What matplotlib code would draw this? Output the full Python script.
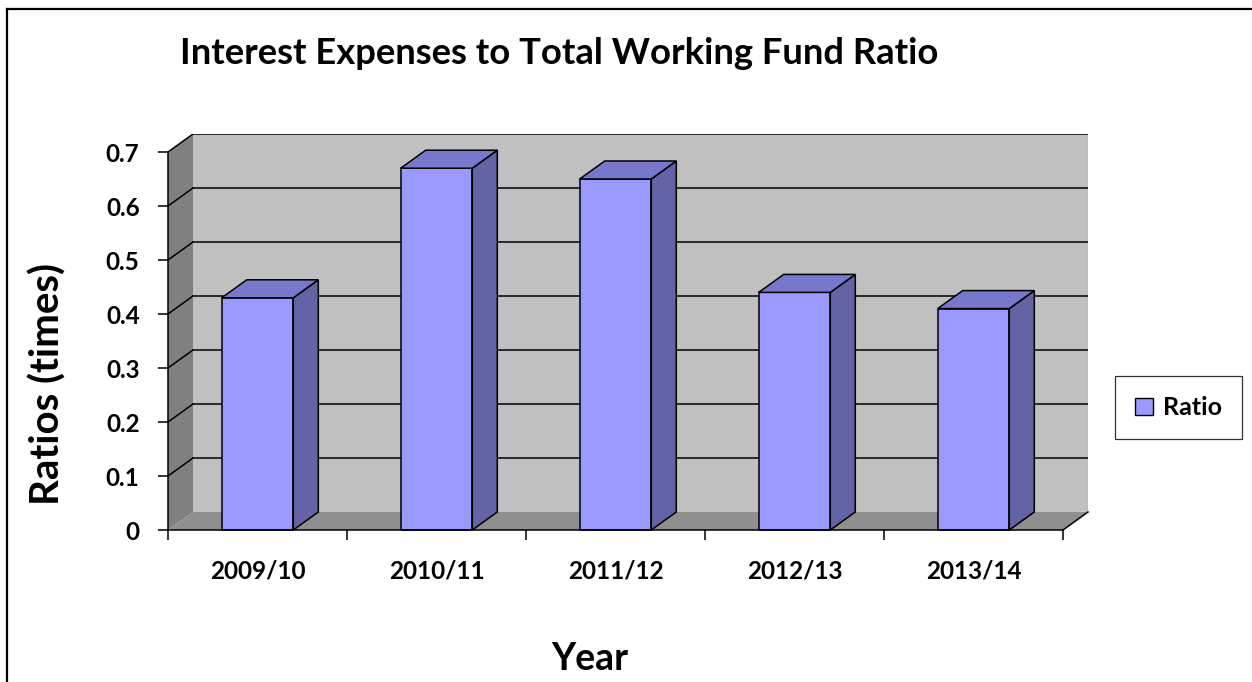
import matplotlib
matplotlib.use("Agg")
import matplotlib.pyplot as plt
from matplotlib.patches import Polygon, Rectangle, Patch
from matplotlib.lines import Line2D

# Data
years = ["2009/10", "2010/11", "2011/12", "2012/13", "2013/14"]
ratios = [0.43, 0.67, 0.65, 0.44, 0.41]
yticks = [0, 0.1, 0.2, 0.3, 0.4, 0.5, 0.6, 0.7]
ymax = 0.7

title = "Interest Expenses to Total Working Fund Ratio"
xlabel = "Year"
ylabel = "Ratios (times)"
series_name = "Ratio"

# Styling
FONT = "Lato"
front_col = "#9999FF"
top_col = "#7777CC"
side_col = "#6363A5"
wall_col = "#C0C0C0"
side_wall_col = "#808080"
floor_col = "#8F8F8F"
edge_lw = 1.1
tick_fs = 17.5

# Depth offset of the pseudo-3D box (x in category units, y in value units)
dx = 25 / 179
dy = 18 / 540
bw = 0.4

W, H = 1252, 682
fig = plt.figure(figsize=(W / 100, H / 100), dpi=100)
fig.patch.set_facecolor("white")

n = len(years)
ax = fig.add_axes([168 / W, (H - 530) / H, (895 + 25) / W, (378 + 18) / H])
ax.set_xlim(0, n + dx)
ax.set_ylim(0, ymax + dy)
ax.set_facecolor("none")

# Walls and floor
back = Polygon([(dx, dy), (n + dx, dy), (n + dx, ymax + dy), (dx, ymax + dy)],
               closed=True, facecolor=wall_col, edgecolor="none", zorder=1)
side = Polygon([(0, 0), (dx, dy), (dx, ymax + dy), (0, ymax)],
               closed=True, facecolor=side_wall_col, edgecolor="none", zorder=1)
floor = Polygon([(0, 0), (n, 0), (n + dx, dy), (dx, dy)],
                closed=True, facecolor=floor_col, edgecolor="none", zorder=1)
for p in (back, side, floor):
    ax.add_patch(p)
ax.plot([n + dx, n + dx], [dy, ymax + dy], color="#7a7a7a", lw=0.8, zorder=1.5)
ax.plot([n, n + dx], [0, dy], color="black", lw=edge_lw, zorder=4, clip_on=False)

# Gridlines on the back wall and side wall
for v in yticks[1:]:
    ax.plot([dx, n + dx], [v + dy, v + dy], color="black", lw=edge_lw, zorder=2)
    ax.plot([0, dx], [v, v + dy], color="black", lw=edge_lw, zorder=2)

# Bars
for i, v in enumerate(ratios):
    x0 = i + 0.5 - bw / 2
    x1 = x0 + bw
    ax.add_patch(Rectangle((x0, 0), bw, v, facecolor=front_col,
                           edgecolor="black", lw=edge_lw, zorder=3, clip_on=False))
    ax.add_patch(Polygon([(x1, 0), (x1 + dx, dy), (x1 + dx, v + dy), (x1, v)],
                         closed=True, facecolor=side_col, edgecolor="black",
                         lw=edge_lw, zorder=3, clip_on=False))
    ax.add_patch(Polygon([(x0, v), (x1, v), (x1 + dx, v + dy), (x0 + dx, v + dy)],
                         closed=True, facecolor=top_col, edgecolor="black",
                         lw=edge_lw, zorder=3, clip_on=False))

# Axes spines and ticks
for s in ("top", "right"):
    ax.spines[s].set_visible(False)
ax.spines["left"].set_bounds(0, ymax)
ax.spines["bottom"].set_bounds(0, n)
for s in ("left", "bottom"):
    ax.spines[s].set_linewidth(edge_lw)
    ax.spines[s].set_zorder(5)

ax.set_yticks(yticks)
ax.set_yticklabels([f"{t:g}" for t in yticks], fontfamily=FONT,
                   fontweight="bold", fontsize=tick_fs)
ax.tick_params(axis="y", direction="out", length=7.5, width=edge_lw, pad=13)

ax.set_xticks([i + 0.5 for i in range(n)])
ax.set_xticklabels(years, fontfamily=FONT, fontweight="bold", fontsize=tick_fs)
ax.set_xticks(list(range(n + 1)), minor=True)
ax.tick_params(axis="x", which="major", length=0, pad=21)
ax.tick_params(axis="x", which="minor", direction="out", length=7, width=edge_lw)

# Titles
fig.text(180 / W, 1 - 53 / H, title, fontfamily=FONT, fontweight="bold",
         fontsize=26.2, ha="left", va="center")
fig.text(590 / W, 1 - 659 / H, xlabel, fontfamily=FONT, fontweight="bold",
         fontsize=27, ha="center", va="center")
fig.text(48 / W, 1 - 384 / H, ylabel, fontfamily=FONT, fontweight="bold",
         fontsize=29, ha="center", va="center", rotation=90)

# Legend
handle = Patch(facecolor=front_col, edgecolor="black", lw=1.0)
leg = fig.legend([handle], [series_name], loc="center",
                 bbox_to_anchor=(1178.5 / W, 1 - 407.5 / H),
                 prop={"family": FONT, "weight": "bold", "size": 18},
                 frameon=True, fancybox=False, borderpad=0.8,
                 handlelength=0.7, handleheight=0.7, handletextpad=0.4,
                 borderaxespad=0)
leg.get_frame().set_edgecolor("black")
leg.get_frame().set_linewidth(0.9)

# Outer frame of the chart area
fig.add_artist(Line2D([7 / W, 7 / W], [0, 1 - 9 / H], transform=fig.transFigure,
                      color="black", lw=1.6))
fig.add_artist(Line2D([7 / W, 1], [1 - 9 / H, 1 - 9 / H], transform=fig.transFigure,
                      color="black", lw=1.6))

fig.savefig("out.png", dpi=100)
